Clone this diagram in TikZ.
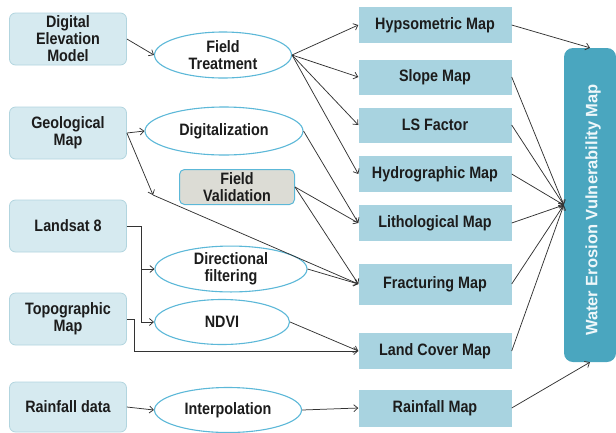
\documentclass[tikz,border=0pt]{standalone}
\usepackage{fontspec}
\setmainfont{Liberation Sans}
\newfontfamily\lblfont{Liberation Sans}[FakeStretch=0.87]
\usetikzlibrary{shapes.geometric,arrows.meta}
\definecolor{leftfill}{HTML}{D6EAF0}
\definecolor{leftdraw}{HTML}{B2D5DF}
\definecolor{rightfill}{HTML}{A8D3E0}
\definecolor{bigfill}{HTML}{4AA6BF}
\definecolor{ellblue}{HTML}{5CB8D8}
\definecolor{fvfill}{HTML}{DCDCD5}
\definecolor{arrowcol}{HTML}{333333}
\definecolor{txtcol}{HTML}{1C1C1C}
\definecolor{bigtxtcol}{HTML}{EEF7FA}
\tikzset{
  lbl/.style={font=\lblfont\bfseries\fontsize{16.5}{17}\selectfont, text=txtcol, align=center},
  leftbox/.style={lbl, rectangle, rounded corners=6pt, fill=leftfill, draw=leftdraw, line width=0.8pt, minimum width=117pt, inner sep=0pt},
  ellnode/.style={lbl, ellipse, draw=ellblue, fill=white, line width=1.1pt, inner sep=0pt},
  rightbox/.style={lbl, rectangle, fill=rightfill, minimum width=153pt, inner sep=0pt},
  fvbox/.style={lbl, rectangle, rounded corners=5pt, fill=fvfill, draw=ellblue, line width=1pt, minimum width=115pt, minimum height=35pt, inner sep=0pt},
  bigbox/.style={rectangle, rounded corners=9pt, fill=bigfill, minimum width=52pt, minimum height=314pt, inner sep=0pt},
  arr/.style={draw=arrowcol, line width=0.75pt, -{Straight Barb[length=4pt,width=7pt]}},
  ln/.style={draw=arrowcol, line width=0.75pt}
}
\begin{document}
\begin{tikzpicture}[x=1pt,y=-1pt]
\useasboundingbox (0,0) rectangle (616,432);
% left column
\node[leftbox, minimum height=52pt] (dem) at (68,39) {Digital\\Elevation\\Model};
\node[leftbox, minimum height=52pt] (geo) at (68,133) {Geological\\Map};
\node[leftbox, minimum height=52pt] (lsat) at (68,226) {Landsat 8};
\node[leftbox, minimum height=52pt] (topo) at (68,319) {Topographic\\Map};
\node[leftbox, minimum height=50pt] (rain) at (68,407) {Rainfall data};
% middle
\node[ellnode, minimum width=137pt, minimum height=46pt] (ft) at (223,55) {Field\\Treatment};
\node[ellnode, minimum width=158pt, minimum height=48pt] (dig) at (224,131) {Digitalization};
\node[fvbox] (fv) at (237,187) {Field\\Validation};
\node[ellnode, minimum width=152pt, minimum height=45pt] (df) at (231,269) {Directional\\filtering};
\node[ellnode, minimum width=135pt, minimum height=45pt] (ndvi) at (222,322) {NDVI};
\node[ellnode, minimum width=147pt, minimum height=45pt] (interp) at (228,410) {Interpolation};
% right column
\node[rightbox, minimum height=36pt] (hyps) at (435,25) {Hypsometric Map};
\node[rightbox, minimum height=35pt] (slope) at (435,77) {Slope Map};
\node[rightbox, minimum height=35pt] (lsf) at (435,125) {LS Factor};
\node[rightbox, minimum height=36pt] (hydro) at (435,174) {Hydrographic Map};
\node[rightbox, minimum height=36pt] (litho) at (435,223) {Lithological Map};
\node[rightbox, minimum height=41pt] (frac) at (435,284) {Fracturing Map};
\node[rightbox, minimum height=36pt] (lc) at (435,351) {Land Cover Map};
\node[rightbox, minimum height=37pt] (rmap) at (435,408) {Rainfall Map};
% big box
\node[bigbox] (big) at (590,205) {};
\node[font=\bfseries\fontsize{16.5}{17}\selectfont, text=bigtxtcol, rotate=90] (bigtxt) at (593,210) {Water Erosion Vulnerability Map};
% coordinates
\coordinate (gbend) at (153,195);
\coordinate (lsx) at (141,226);
\coordinate (lsdf) at (141,269);
% arrows
\draw[arr] (dem.east) -- (ft.west);
\draw[arr] (geo.east) -- (dig.west);
\draw[arr] (geo.east) -- (gbend);
\draw[arr] (gbend) -- (frac.west);
\draw[ln] (lsat.east) -- (lsx);
\draw[arr] (lsx) |- (ndvi.west);
\draw[arr] (lsdf) -- (df.west);
\draw[arr] (topo.east) -- ++(7,0) |- (lc.west);
\draw[arr] (rain.east) -- (interp.west);
\draw[arr] (ft.east) -- (hyps.west);
\draw[arr] (ft.east) -- (slope.west);
\draw[arr] (ft.east) -- (lsf.west);
\draw[arr] (ft.east) -- (hydro.west);
\draw[arr] (dig.east) -- (litho.west);
\draw[arr] (fv.east) -- (litho.west);
\draw[arr] (fv.east) -- (frac.west);
\draw[arr] (df.east) -- (frac.west);
\draw[arr] (ndvi.east) -- (lc.west);
\draw[arr] (interp.east) -- (rmap.west);
\draw[arr] (hyps.east) -- (big.north);
\foreach \n in {slope,lsf,hydro,litho,frac,lc}{\draw[arr] (\n.east) -- (big.west);}
\draw[arr] (rmap.east) -- (big.south);
\end{tikzpicture}
\end{document}
